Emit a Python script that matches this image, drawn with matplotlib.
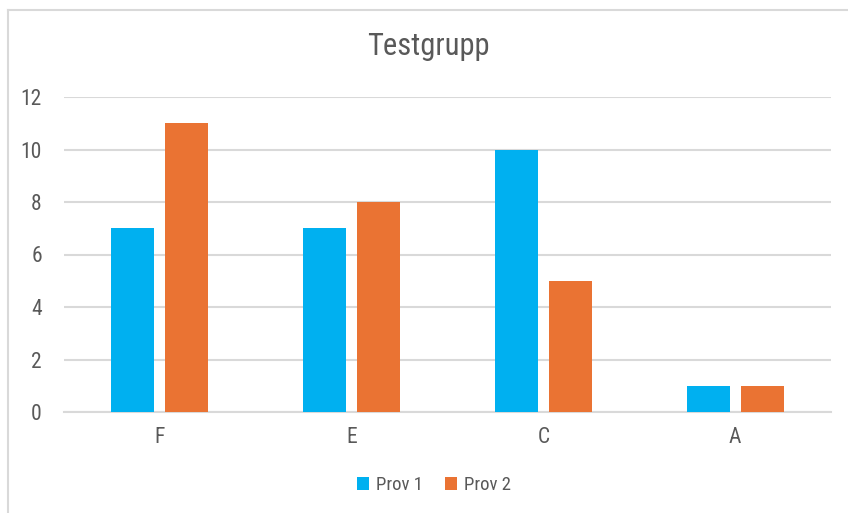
import matplotlib.pyplot as plt
from matplotlib.lines import Line2D
import numpy as np

categories = ['F', 'E', 'C', 'A']
prov1 = [7, 7, 10, 1]
prov2 = [11, 8, 5, 1]
yticks = [0, 2, 4, 6, 8, 10, 12]

blue = '#00B0F0'
orange = '#EA7333'
grid_col = '#D9D9D9'
text_col = '#595959'
font = ['Liberation Sans Narrow', 'Roboto Condensed', 'Liberation Sans', 'DejaVu Sans']

fig = plt.figure(figsize=(8.48, 5.13), dpi=100)
# outer chart frame, only its top and left edges fall inside the image
fx, fy = 8 / 848, 1 - 10 / 513
fig.add_artist(Line2D([fx, 1.0], [fy, fy], transform=fig.transFigure,
                      color=grid_col, linewidth=1.5))
fig.add_artist(Line2D([fx, fx], [0.0, fy], transform=fig.transFigure,
                      color=grid_col, linewidth=1.5))

ax = fig.add_axes([64 / 848, 1 - 412 / 513, (831 - 64) / 848, (412 - 97) / 513])

x = np.arange(len(categories))
w = 0.224
off = 0.141
ax.bar(x - off, prov1, w, color=blue, label='Prov 1', zorder=3)
ax.bar(x + off, prov2, w, color=orange, label='Prov 2', zorder=3)

ax.set_xlim(-0.5, len(categories) - 0.5)
ax.set_ylim(0, 12)
ax.set_yticks(yticks)
ax.set_xticks(x)
ax.set_xticklabels(categories)
ax.yaxis.grid(True, color=grid_col, linewidth=1.5, zorder=0)
ax.set_axisbelow(True)
for s in ['top', 'right', 'left']:
    ax.spines[s].set_visible(False)
ax.spines['bottom'].set_color(grid_col)
ax.spines['bottom'].set_linewidth(1.5)
ax.tick_params(length=0, labelsize=15.5, colors=text_col)
ax.tick_params(axis='y', pad=16)
ax.tick_params(axis='x', pad=11)
for lab in ax.get_xticklabels() + ax.get_yticklabels():
    lab.set_family(font)

fig.text(428 / 848, 1 - 47 / 513, 'Testgrupp', ha='center', va='center',
         fontsize=22, color=text_col, family=font)

leg = fig.legend(loc='center', bbox_to_anchor=(434 / 848, 1 - 485 / 513), ncol=2,
                 frameon=False, handlelength=0.65, handleheight=0.65,
                 handletextpad=0.35, columnspacing=1.2,
                 prop={'family': font, 'size': 13.5})
for t in leg.get_texts():
    t.set_color(text_col)

fig.savefig('out.png', dpi=100)
